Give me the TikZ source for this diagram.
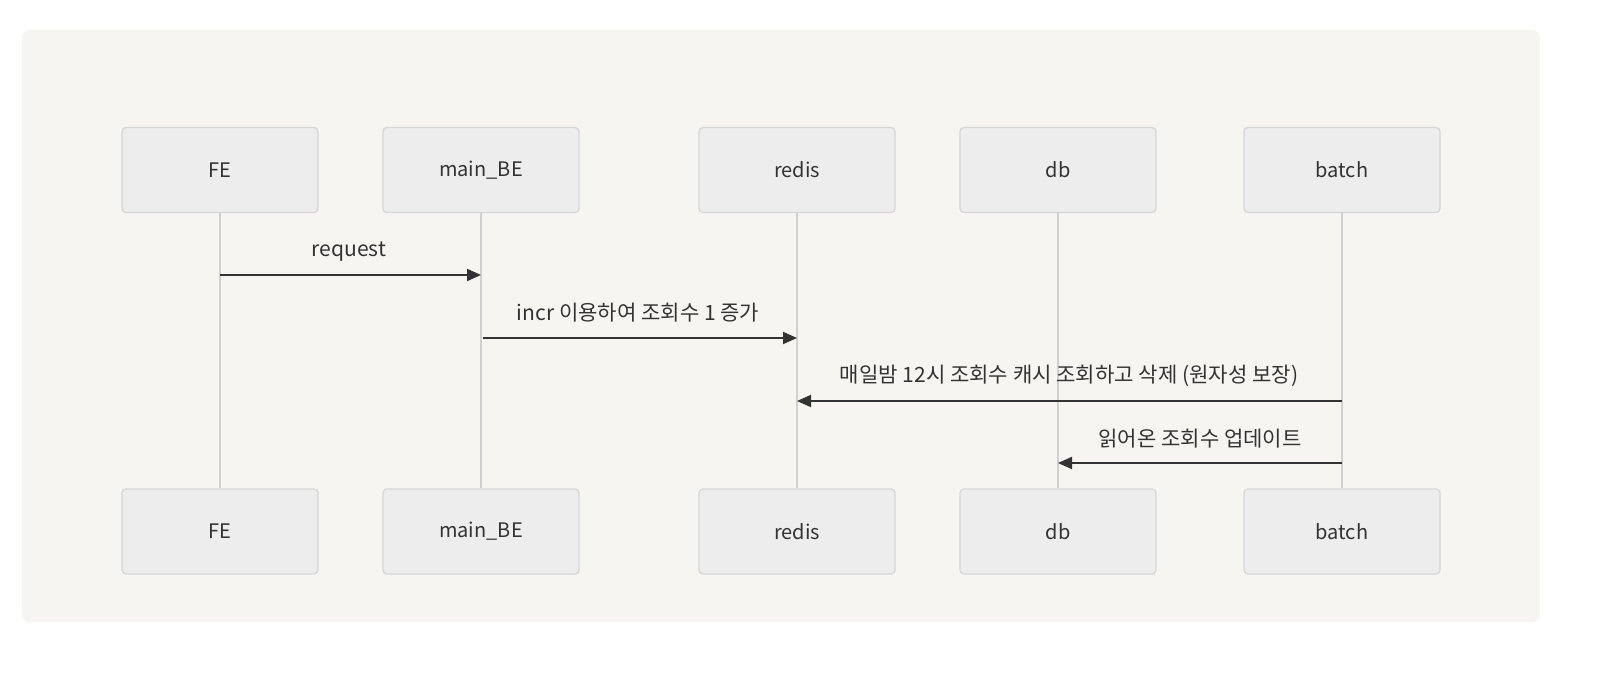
\documentclass[tikz,border=0pt]{standalone}
\usepackage{fontspec}
\setmainfont{Noto Sans CJK KR}
\usetikzlibrary{arrows.meta}
\definecolor{panelbg}{HTML}{F6F5F2}
\definecolor{boxfill}{HTML}{EDEDED}
\definecolor{boxline}{HTML}{D6D6D6}
\definecolor{lifeline}{HTML}{D0D0D0}
\definecolor{msgcol}{HTML}{333333}
\begin{document}
\begin{tikzpicture}[x=0.75pt,y=-0.75pt,
  actorbox/.style={draw=boxline, line width=1pt, fill=boxfill, rounded corners=3pt,
    minimum width=147pt, minimum height=63.75pt, inner sep=0pt, font=\fontsize{15}{17}\selectfont, text=msgcol},
  lifeln/.style={draw=lifeline, line width=1.5pt},
  msg/.style={draw=msgcol, line width=1.4pt, -{Triangle[length=10.5pt,width=9pt]}},
  msglabel/.style={font=\fontsize{15.8}{17}\selectfont, text=msgcol, inner sep=0pt}
]
\useasboundingbox (0,0) rectangle (1610,684);
\fill[white] (0,0) rectangle (1610,684);
\fill[panelbg, rounded corners=6pt] (22,30) rectangle (1540,622);

% actors
\foreach \n/\x/\t in {fe/220/FE, be/481/main\_BE, rd/797/redis, db/1058/db, bt/1342/batch}{
  \node[actorbox] (\n top) at (\x,170) {\t};
  \node[actorbox] (\n bot) at (\x,531.5) {\t};
  \draw[lifeln] (\n top.south) -- (\n bot.north);
}

% message coordinates
\coordinate (m1s) at (220,275); \coordinate (m1e) at (481,275);
\coordinate (m2s) at (483,338); \coordinate (m2e) at (797,338);
\coordinate (m3s) at (1342,401); \coordinate (m3e) at (797,401);
\coordinate (m4s) at (1342,463); \coordinate (m4e) at (1058,463);

\draw[msg] (m1s) -- (m1e);
\draw[msg] (m2s) -- (m2e);
\draw[msg] (m3s) -- (m3e);
\draw[msg] (m4s) -- (m4e);

\node[msglabel] (l1) at (349,252) {request};
\node[msglabel] (l2) at (638,313) {incr 이용하여 조회수 1 증가};
\node[msglabel] (l3) at (1069,376) {매일밤 12시 조회수 캐시 조회하고 삭제 (원자성 보장)};
\node[msglabel] (l4) at (1200,439) {읽어온 조회수 업데이트};
\end{tikzpicture}
\end{document}
